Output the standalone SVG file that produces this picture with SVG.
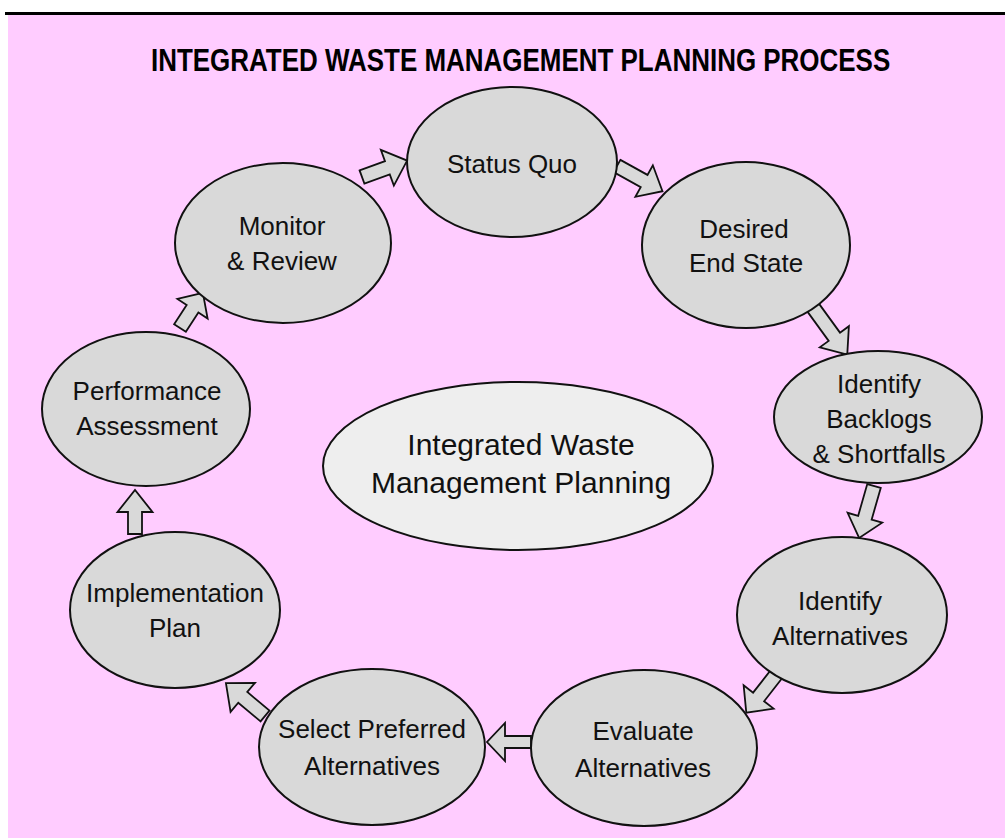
<svg xmlns="http://www.w3.org/2000/svg" width="1005" height="838" viewBox="0 0 1005 838">
<defs>
<style>
.bg{fill:#FFCCFF}
.node{fill:#D9D9D9;stroke:#111;stroke-width:2}
.hub{fill:#EEEEEE;stroke:#111;stroke-width:2}
.arr{fill:#D9D9D9;stroke:#111;stroke-width:1.8;stroke-linejoin:miter}
.t{font-family:"Liberation Sans",Arial,sans-serif;font-size:26px;fill:#111;text-anchor:middle}
.th{font-family:"Liberation Sans",Arial,sans-serif;font-size:30px;fill:#111;text-anchor:middle}
.title{font-family:"Liberation Sans",Arial,sans-serif;font-size:31px;font-weight:bold;fill:#000}
</style>
</defs>
<rect x="0" y="0" width="1005" height="838" fill="#FFFFFF"/>
<rect class="bg" x="8" y="15" width="997" height="823"/>
<rect x="5" y="12" width="1000" height="3" fill="#000"/>
<text class="title" transform="translate(151,71) scale(0.8377,1)" x="0" y="0">INTEGRATED WASTE MANAGEMENT PLANNING PROCESS</text>

<g id="connectors">
<path class="arr" transform="translate(362,177) rotate(-20)" d="M0,-7 H27 V-19 L48,0 L27,19 V7 H0 Z"/>
<path class="arr" transform="translate(617,166) rotate(29)" d="M0,-7 H31 V-18 L52,0 L31,18 V7 H0 Z"/>
<path class="arr" transform="translate(812,306) rotate(54)" d="M0,-7 H38 V-18 L60,0 L38,18 V7 H0 Z"/>
<path class="arr" transform="translate(874,486) rotate(106)" d="M0,-7 H33 V-18 L54,0 L33,18 V7 H0 Z"/>
<path class="arr" transform="translate(782,667) rotate(128)" d="M0,-7 H38 V-19 L58,0 L38,19 V7 H0 Z"/>
<path class="arr" transform="translate(531,742) rotate(180)" d="M0,-6 H26 V-19 L44,0 L26,19 V6 H0 Z"/>
<path class="arr" transform="translate(265,716) rotate(220)" d="M0,-7 H29 V-19 L51,0 L29,19 V7 H0 Z"/>
<path class="arr" transform="translate(135,534) rotate(-90)" d="M0,-7 H22 V-17.5 L44,0 L22,17.5 V7 H0 Z"/>
<path class="arr" transform="translate(180,328) rotate(-57)" d="M0,-7 H23 V-18 L42,0 L23,18 V7 H0 Z"/>
</g>

<g id="status-quo">
<ellipse class="node" cx="512" cy="162" rx="105" ry="75"/>
<text class="t" x="512" y="173">Status Quo</text>
</g>
<g id="desired-end-state">
<ellipse class="node" cx="746" cy="245" rx="104" ry="83"/>
<text class="t" x="744" y="238">Desired</text>
<text class="t" x="746" y="272">End State</text>
</g>
<g id="identify-backlogs">
<ellipse class="node" cx="878" cy="417" rx="104" ry="66"/>
<text class="t" x="879" y="393">Identify</text>
<text class="t" x="879" y="428">Backlogs</text>
<text class="t" x="879" y="463">&amp; Shortfalls</text>
</g>
<g id="identify-alternatives">
<ellipse class="node" cx="842" cy="615" rx="105" ry="78"/>
<text class="t" x="840" y="610">Identify</text>
<text class="t" x="840" y="645">Alternatives</text>
</g>
<g id="evaluate-alternatives">
<ellipse class="node" cx="644" cy="748" rx="113" ry="78"/>
<text class="t" x="643" y="740">Evaluate</text>
<text class="t" x="643" y="777">Alternatives</text>
</g>
<g id="select-preferred">
<ellipse class="node" cx="372" cy="747" rx="113" ry="78"/>
<text class="t" x="372" y="738">Select Preferred</text>
<text class="t" x="372" y="775">Alternatives</text>
</g>
<g id="implementation-plan">
<ellipse class="node" cx="175" cy="610" rx="105" ry="78"/>
<text class="t" x="175" y="602">Implementation</text>
<text class="t" x="175" y="637">Plan</text>
</g>
<g id="performance-assessment">
<ellipse class="node" cx="146" cy="409" rx="104" ry="77"/>
<text class="t" x="147" y="400">Performance</text>
<text class="t" x="147" y="435">Assessment</text>
</g>
<g id="monitor-review">
<ellipse class="node" cx="283" cy="243" rx="108" ry="80"/>
<text class="t" x="282" y="235">Monitor</text>
<text class="t" x="282" y="270">&amp; Review</text>
</g>
<g id="hub">
<ellipse class="hub" cx="518" cy="466" rx="195" ry="84"/>
<text class="th" x="521" y="455">Integrated Waste</text>
<text class="th" x="521" y="493">Management Planning</text>
</g>
</svg>
